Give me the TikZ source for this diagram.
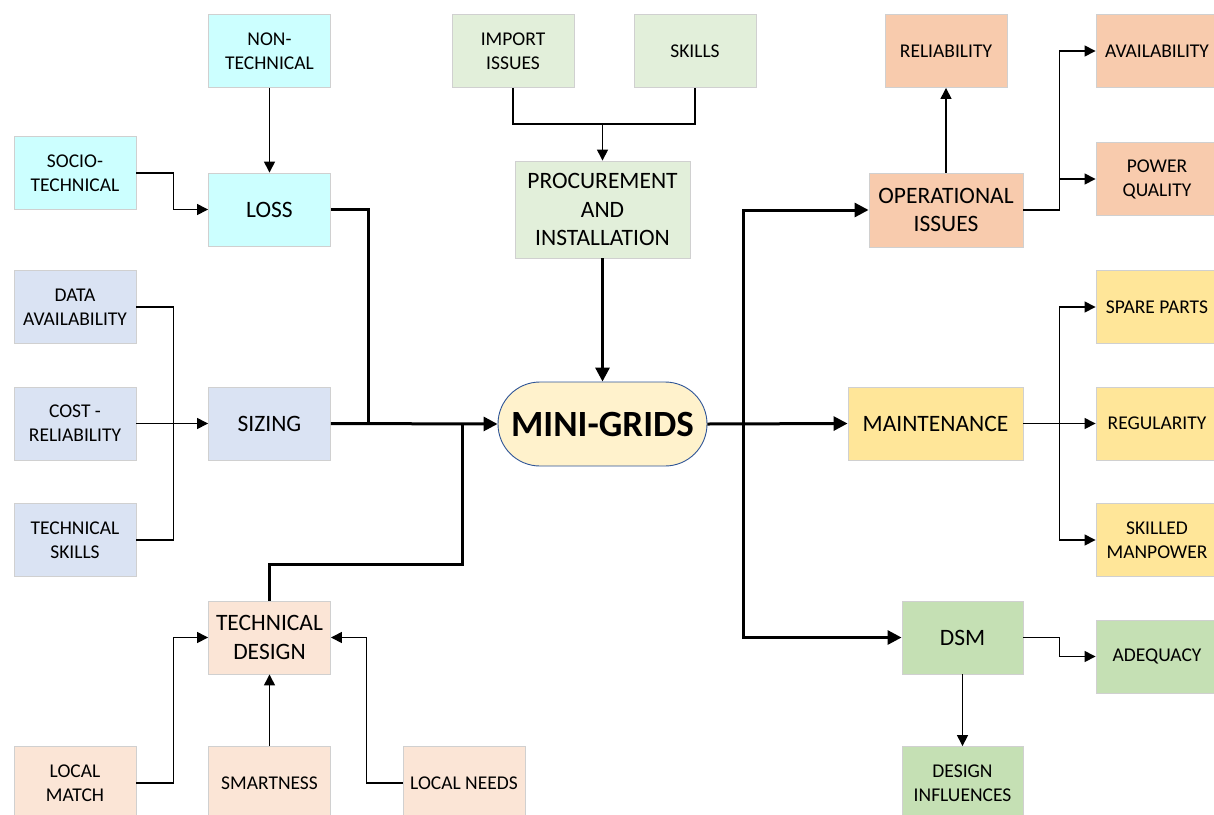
\documentclass[tikz,border=0pt]{standalone}
\usepackage{fontspec}
\setmainfont{Carlito}
\usetikzlibrary{arrows.meta,calc}
\definecolor{cyanf}{HTML}{CCFFFF}
\definecolor{bluef}{HTML}{DAE3F3}
\definecolor{greenf}{HTML}{E2EFDA}
\definecolor{orangef}{HTML}{F8CBAD}
\definecolor{yellowf}{HTML}{FFE699}
\definecolor{dgreenf}{HTML}{C5E0B4}
\definecolor{peachf}{HTML}{FBE5D6}
\definecolor{minif}{HTML}{FFF2CC}
\definecolor{miniline}{HTML}{2F5597}
\definecolor{boxline}{HTML}{D0D0D0}
\tikzset{
  box/.style={draw=boxline, line width=0.9pt, minimum width=122pt, minimum height=73pt,
    align=center, inner sep=0pt, text=black,
    font=\fontsize{19.5}{24}\selectfont},
  bigbox/.style={box, font=\fontsize{23.5}{28.5}\selectfont},
  thinarr/.style={line width=1.4pt, -{Triangle[length=11pt,width=11pt]}},
  thinln/.style={line width=1.4pt},
  thickarr/.style={line width=3pt, -{Triangle[length=14pt,width=14pt]}},
  thickln/.style={line width=3pt},
}
\begin{document}
\begin{tikzpicture}[x=1pt,y=-1pt]
\useasboundingbox (0,0) rectangle (1214,814);
\clip (0,0) rectangle (1214,814);
\fill[white] (0,0) rectangle (1214,814);
% left
\node[box, fill=cyanf] (nontech) at (269.5,51) {NON-\\TECHNICAL};
\node[box, fill=cyanf] (socio) at (75,173) {SOCIO-\\TECHNICAL};
\node[bigbox, fill=cyanf] (loss) at (269.5,209.5) {LOSS};
\node[box, fill=bluef] (data) at (75,307) {DATA\\AVAILABILITY};
\node[box, fill=bluef] (cost) at (75,423.5) {COST -\\RELIABILITY};
\node[bigbox, fill=bluef] (sizing) at (269.5,423.5) {SIZING};
\node[box, fill=bluef] (tskills) at (75,540) {TECHNICAL\\SKILLS};
\node[bigbox, fill=peachf] (tdesign) at (269.5,637.5) {TECHNICAL\\DESIGN};
\node[box, fill=peachf] (lmatch) at (75,783) {LOCAL\\MATCH};
\node[box, fill=peachf] (smart) at (269.5,783) {SMARTNESS};
\node[box, fill=peachf] (lneeds) at (464,783) {LOCAL NEEDS};
% center
\node[box, fill=greenf] (import) at (513,51) {IMPORT\\ISSUES};
\node[box, fill=greenf] (skills) at (695,51) {SKILLS};
\node[bigbox, fill=greenf, minimum width=175pt, minimum height=97pt] (proc) at (602.5,209.5) {PROCUREMENT\\AND\\INSTALLATION};
\node[draw=miniline, line width=0.9pt, fill=minif, rounded corners=42pt, minimum width=209pt, minimum height=84pt, inner sep=0pt, font=\fontsize{37}{40}\selectfont\bfseries] (mini) at (602.5,424) {MINI-GRIDS};
% right
\node[bigbox, fill=orangef, minimum width=154pt, minimum height=74pt] (opiss) at (946,210) {OPERATIONAL\\ISSUES};
\node[box, fill=orangef] (rel) at (946,51) {RELIABILITY};
\node[box, fill=orangef] (avail) at (1157,51) {AVAILABILITY};
\node[box, fill=orangef] (pq) at (1157,179) {POWER\\QUALITY};
\node[bigbox, fill=yellowf, minimum width=175pt] (maint) at (935.5,423.5) {MAINTENANCE};
\node[box, fill=yellowf] (spare) at (1157,307) {SPARE PARTS};
\node[box, fill=yellowf] (reg) at (1157,423.5) {REGULARITY};
\node[box, fill=yellowf] (skilled) at (1157,540) {SKILLED\\MANPOWER};
\node[bigbox, fill=dgreenf, minimum width=121pt] (dsm) at (962.5,637.5) {DSM};
\node[box, fill=dgreenf] (adeq) at (1157,656.5) {ADEQUACY};
\node[box, fill=dgreenf, minimum width=121pt] (desinf) at (962.5,783) {DESIGN\\INFLUENCES};
% junctions
\coordinate (jl) at (368,424);
\coordinate (jd) at (462,424);
\coordinate (jr) at (743,424);
\coordinate (jt) at (602.5,124);
% left connectors
\draw[thinarr] (nontech) -- (loss);
\draw[thinarr] (socio.east) -- ++(37,0) |- (loss.west);
\draw[thinln] (data.east) -- ++(37,0) |- (tskills.east);
\draw[thinarr] (cost.east) -- (sizing.west);
\draw[thinarr] (lmatch.east) -- ++(37,0) |- (tdesign.west);
\draw[thinarr] (lneeds.west) -- ++(-36,0) |- (tdesign.east);
\draw[thinarr] (smart.north) -- (tdesign.south);
\draw[thickln] (loss.east) -| (jl);
\draw[thickln] (tdesign.north) -- ++(0,-36) -| (jd);
\draw[thickarr] (sizing.east) -- (mini.west);
% center connectors
\draw[thinln] (import.south) |- (jt) -| (skills.south);
\draw[thinarr] (jt) -- (proc.north);
\draw[thickarr] (proc.south) -- (mini.north);
% right connectors
\draw[thickarr] (mini.east) -- (maint.west);
\draw[thickarr] (jr) |- (opiss.west);
\draw[thickarr] (jr) |- (dsm.west);
\draw[thinarr] (opiss.north) -- (rel.south);
\draw[thinarr] (opiss.east) -- ++(36,0) |- (avail.west);
\draw[thinarr] (opiss.east) -- ++(36,0) |- (pq.west);
\draw[thinarr] (maint.east) -- (reg.west);
\draw[thinarr] (maint.east) -- ++(36,0) |- (spare.west);
\draw[thinarr] (maint.east) -- ++(36,0) |- (skilled.west);
\draw[thinarr] (dsm.east) -- ++(36,0) |- (adeq.west);
\draw[thinarr] (dsm.south) -- (desinf.north);
\end{tikzpicture}
\end{document}
